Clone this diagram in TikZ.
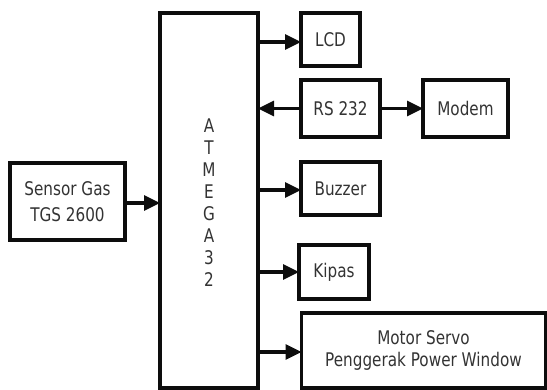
\documentclass[tikz,border=0pt]{standalone}
\usepackage{fontspec}
\setmainfont{DejaVu Sans}[FakeStretch=0.81]
\usetikzlibrary{arrows.meta}
\begin{document}
\begin{tikzpicture}[x=1pt,y=-1pt,
  box/.style={draw=black!95,line width=3.2pt,inner sep=0pt,outer sep=0pt,
    text=black!80,font=\fontsize{18.8}{23}\selectfont,align=center},
  arr/.style={draw=black!95,line width=3.2pt,-{Triangle[length=16pt,width=15pt]}}]
\useasboundingbox (0,0) rectangle (547,390);
\node[box,minimum width=98pt,minimum height=375pt] (atm) at (209,200.5) {};
\node[box,minimum width=59pt,minimum height=53pt] (lcd) at (330.5,39.5) {LCD};
\node[box,minimum width=79pt,minimum height=57pt] (rs) at (340.5,108.5) {RS 232};
\node[box,minimum width=85pt,minimum height=57pt] (modem) at (465.5,108.5) {Modem};
\node[box,minimum width=79pt,minimum height=53pt] (buzzer) at (340.5,188.5) {Buzzer};
\node[box,minimum width=70pt,minimum height=54pt] (kipas) at (334,272) {Kipas};
\node[box,minimum width=244pt,minimum height=75pt,font=\fontsize{18.8}{22}\selectfont] (motor) at (423.5,350.5) {Motor Servo\\Penggerak Power Window};
\node[box,minimum width=115pt,minimum height=77pt,font=\fontsize{18.8}{26}\selectfont] (sensor) at (67.5,201.5) {Sensor Gas\\TGS 2600};
\node[text=black!80,font=\fontsize{18.8}{22}\selectfont,align=center,inner sep=0pt] (atmtext) at (209,203) {A\\T\\M\\E\\G\\A\\3\\2};
\draw[arr] (sensor.east |- 0,203) coordinate (s1) -- (atm.west |- s1);
\draw[arr] (atm.east |- 0,42) coordinate (l1) -- (lcd.west |- l1);
\draw[arr] (rs.west) -- (atm.east |- rs.west);
\draw[arr] (rs.east) -- (modem.west);
\draw[arr] (atm.east |- 0,190) coordinate (b1) -- (buzzer.west |- b1);
\draw[arr] (atm.east |- kipas.west) -- (kipas.west);
\draw[arr] (atm.east |- 0,352) coordinate (m1) -- (motor.west |- m1);
\end{tikzpicture}
\end{document}
